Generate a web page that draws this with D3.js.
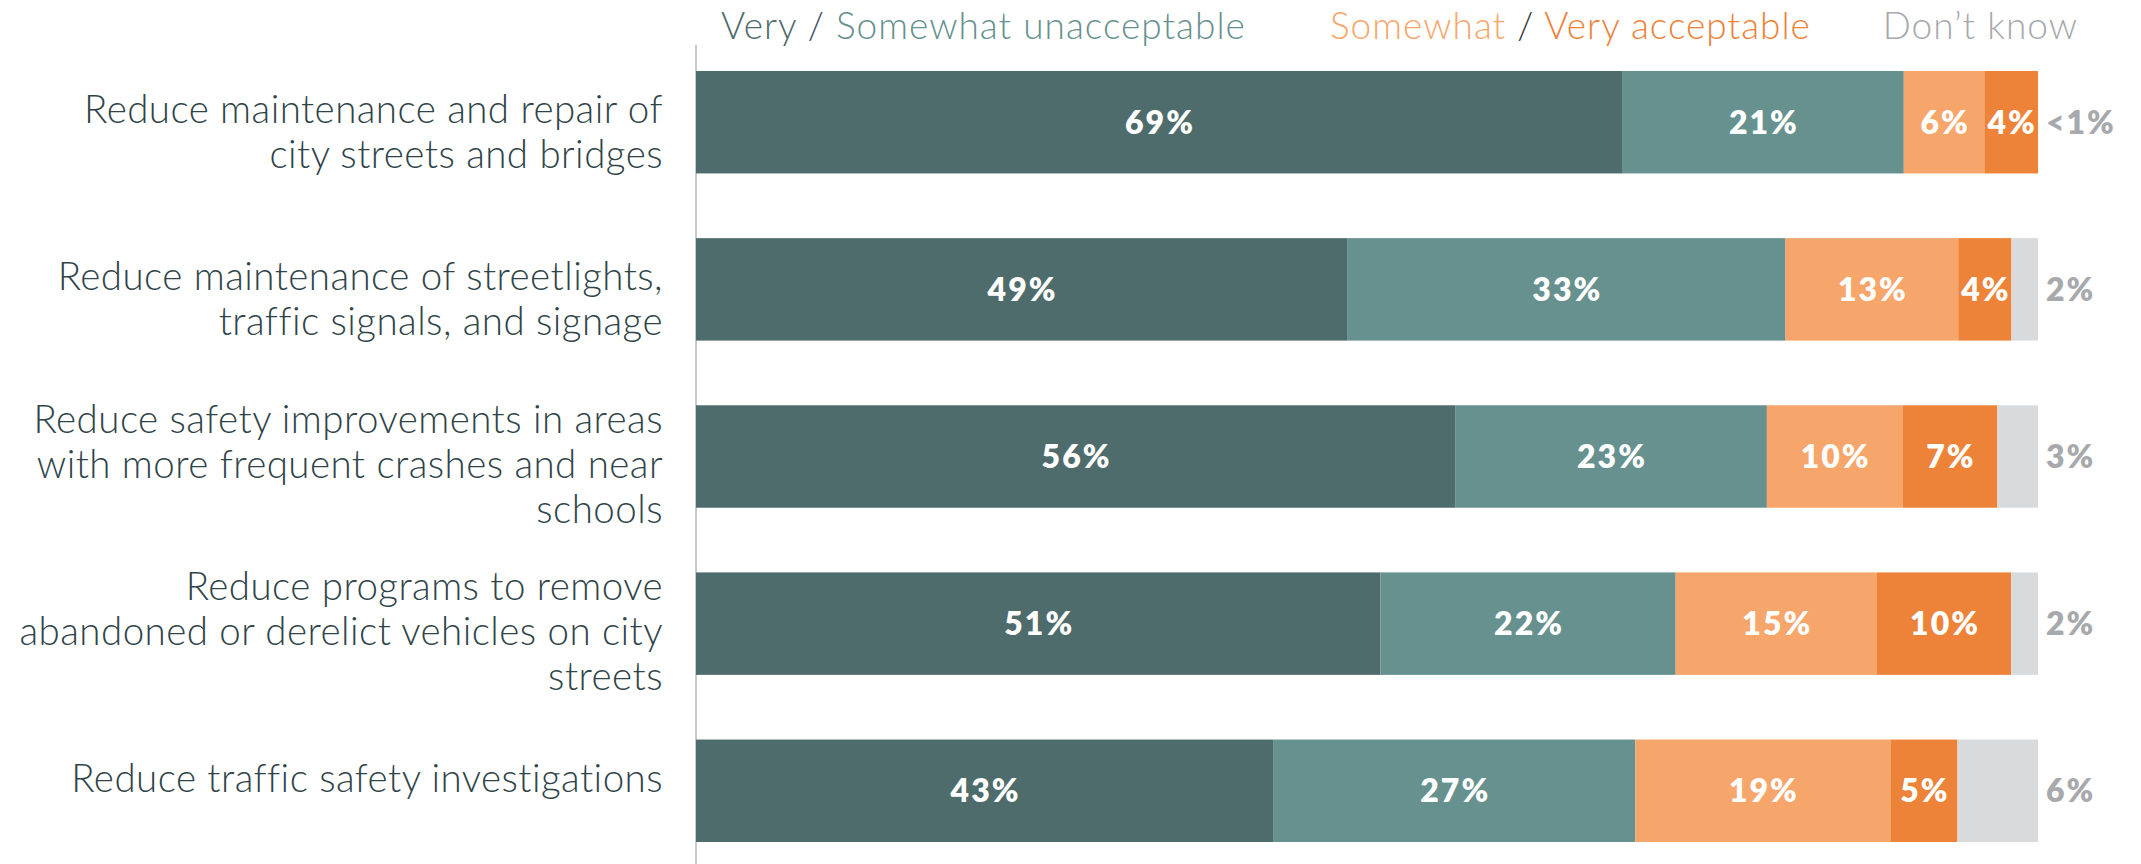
<!DOCTYPE html>
<html>
<head>
<meta charset="utf-8">
<script src="https://cdn.jsdelivr.net/npm/d3@7/dist/d3.min.js"></script>
<style>
  html, body { margin: 0; padding: 0; background: #ffffff; }
  svg { display: block; }
</style>
</head>
<body>
<svg id="chart" width="2141" height="864"></svg>
<script>
// Survey items (label lines as shown)
const categories = [
  ["Reduce maintenance and repair of", "city streets and bridges"],
  ["Reduce maintenance of streetlights,", "traffic signals, and signage"],
  ["Reduce safety improvements in areas", "with more frequent crashes and near", "schools"],
  ["Reduce programs to remove", "abandoned or derelict vehicles on city", "streets"],
  ["Reduce traffic safety investigations"]
];

// Response shares, percent
const veryUnacceptable     = [69, 49, 56, 51, 43];
const somewhatUnacceptable = [21, 33, 23, 22, 27];
const somewhatAcceptable   = [6, 13, 10, 15, 19];
const veryAcceptable       = [4, 4, 7, 10, 5];
const dontKnow             = [0, 2, 3, 2, 6];
const dontKnowLabels       = ["<1%", "2%", "3%", "2%", "6%"];

const seriesKeys   = ["veryUnacceptable", "somewhatUnacceptable", "somewhatAcceptable", "veryAcceptable", "dontKnow"];
const seriesValues = [veryUnacceptable, somewhatUnacceptable, somewhatAcceptable, veryAcceptable, dontKnow];
const seriesColors = ["#4e6c6c", "#66918f", "#f7a66b", "#ec8339", "#d9dadc"];

const svg = d3.select("#chart");
const ids = categories.map((_, i) => i);

// Rows: each bar normalized to its own total so all end at the same x
const rows = ids.map(i => {
  const vals = seriesValues.map(s => s[i]);
  const total = d3.sum(vals);
  const row = { id: i };
  seriesKeys.forEach((k, j) => row[k] = vals[j] / total);
  return row;
});

const stacked = d3.stack().keys(seriesKeys)(rows);

const x = d3.scaleLinear().domain([0, 1]).range([696, 2038]);
const y = d3.scaleBand().domain(ids).range([71, 842]).paddingInner(0.387).paddingOuter(0);

const labelFont = "Lato, 'Open Sans', sans-serif";

// Vertical axis line
svg.append("line")
  .attr("x1", x(0)).attr("x2", x(0))
  .attr("y1", 45).attr("y2", 864)
  .attr("stroke", "#b8b8b8").attr("stroke-width", 1.5);

// Stacked segments
const layers = svg.append("g").selectAll("g")
  .data(stacked)
  .join("g")
  .attr("fill", (d, j) => seriesColors[j]);

layers.selectAll("rect")
  .data(d => d.map(p => ({ p, key: d.key })))
  .join("rect")
  .attr("x", d => x(d.p[0]))
  .attr("y", d => y(d.p.data.id))
  .attr("width", d => Math.max(0, x(d.p[1]) - x(d.p[0])))
  .attr("height", y.bandwidth());

// Value labels inside segments (first four series)
stacked.slice(0, 4).forEach((layer, j) => {
  svg.append("g").selectAll("text")
    .data(layer)
    .join("text")
    .attr("x", p => (x(p[0]) + x(p[1])) / 2 + 1)
    .attr("y", p => y(p.data.id) + y.bandwidth() / 2)
    .attr("dy", "0.36em")
    .attr("text-anchor", "middle")
    .attr("font-family", labelFont)
    .attr("font-weight", 800)
    .attr("font-size", 32)
    .attr("letter-spacing", 2)
    .attr("fill", "#ffffff")
    .text(p => seriesValues[j][p.data.id] + "%");
});

// "Don't know" values to the right of each bar
svg.append("g").selectAll("text")
  .data(ids)
  .join("text")
  .attr("x", x(1) + 8)
  .attr("y", i => y(i) + y.bandwidth() / 2)
  .attr("dy", "0.36em")
  .attr("font-family", labelFont)
  .attr("font-weight", 800)
  .attr("font-size", 32)
  .attr("letter-spacing", 2)
  .attr("fill", "#a7a9ac")
  .text(i => dontKnowLabels[i]);

// Category labels, right aligned against the axis
const lineH = 45;
const cat = svg.append("g").selectAll("text")
  .data(ids)
  .join("text")
  .attr("text-anchor", "end")
  .attr("font-family", labelFont)
  .attr("font-weight", 300)
  .attr("font-size", 38.5)
  .attr("letter-spacing", 0.45)
  .attr("fill", "#2f4448");

cat.each(function(i) {
  const lines = categories[i];
  const first = y(i) + y.bandwidth() / 2 + (lines.length >= 3 ? -25 : 0) + 1;
  d3.select(this).selectAll("tspan")
    .data(lines)
    .join("tspan")
    .attr("x", 663)
    .attr("y", (l, k) => first + k * lineH)
    .text(l => l);
});

// Legend
const legend = [
  { x: 721, anchor: "start", parts: [["Very", "#4e6c6c"], [" / ", "#3b4a66"], ["Somewhat unacceptable", "#66918f"]] },
  { x: 1330, anchor: "start", parts: [["Somewhat", "#f7a66b"], [" / ", "#333333"], ["Very acceptable", "#ec8339"]] },
  { x: 2078, anchor: "end", parts: [["Don\u2019t know", "#a7a9ac"]] }
];

svg.append("g").selectAll("text")
  .data(legend)
  .join("text")
  .attr("x", d => d.x)
  .attr("y", 39)
  .attr("text-anchor", d => d.anchor)
  .attr("font-family", labelFont)
  .attr("font-weight", 300)
  .attr("font-size", 37)
  .attr("letter-spacing", 1)
  .each(function(d) {
    d3.select(this).selectAll("tspan")
      .data(d.parts)
      .join("tspan")
      .attr("fill", p => p[1])
      .style("white-space", "pre")
      .text(p => p[0]);
  });
</script>
</body>
</html>
